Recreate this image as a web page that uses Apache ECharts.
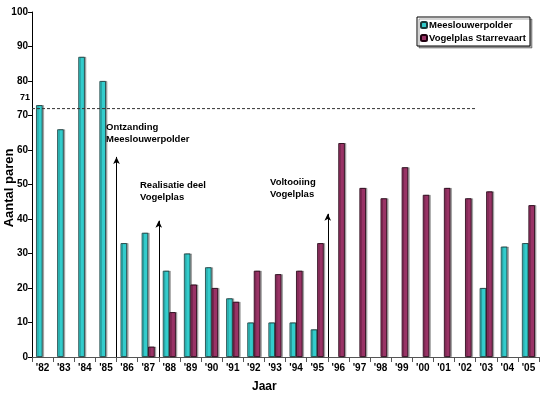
<!DOCTYPE html>
<html><head><meta charset="utf-8">
<script src="https://cdn.jsdelivr.net/npm/echarts@6/dist/echarts.min.js"></script>
<style>html,body{margin:0;padding:0;background:#fff}#c{width:550px;height:398px}</style>
</head><body><div id="c"></div>
<script>
const years = ["'82","'83","'84","'85","'86","'87","'88","'89","'90","'91","'92","'93","'94","'95","'96","'97","'98","'99","'00","'01","'02","'03","'04","'05"];
const meeslouwerpolder = [73,66,87,80,33,36,25,30,26,17,10,10,10,8,null,null,null,null,null,null,null,20,32,33];
const vogelplas = [null,null,null,null,null,3,13,21,20,16,25,24,25,33,62,49,46,55,47,49,46,48,null,44];
const yTicks = [0,10,20,30,40,50,60,70,80,90,100];
const refValue = 72;
const refLabel = '71';
// annotation arrows: [category boundary index, arrow top value]
const arrows = [[4,58],[6,39.5],[14,41.5]];

const font = 'Liberation Sans, Arial, sans-serif';
const chart = echarts.init(document.getElementById('c'));
chart.setOption({
  animation:false,
  grid:{left:32,right:11,top:12,bottom:41,containLabel:false,outerBoundsMode:'none'},
  legend:{
    orient:'vertical', left:417, top:17, padding:[3,4,3,3], itemGap:3,
    itemWidth:6, itemHeight:6, borderColor:'#000', borderWidth:1,
    shadowColor:'rgba(0,0,0,0.35)', shadowOffsetX:2, shadowOffsetY:2, backgroundColor:'#fff',
    textStyle:{fontFamily:font,fontWeight:'bold',fontSize:9.5,color:'#000',padding:[0,0,0,-3]},
    data:['Meeslouwerpolder','Vogelplas Starrevaart']
  },
  xAxis:[{
    type:'category', data:years, boundaryGap:true,
    axisLine:{lineStyle:{color:'#555',width:1}},
    axisTick:{show:true,length:5,lineStyle:{color:'#555'}},
    axisLabel:{fontFamily:font,fontWeight:'bold',fontSize:10,color:'#000',margin:6}
  },{
    type:'value', min:0, max:24, show:false
  }],
  yAxis:{
    type:'value', min:0, max:100, interval:10,
    splitLine:{show:false},
    axisLine:{show:true,lineStyle:{color:'#000'}},
    axisTick:{show:true,length:4,lineStyle:{color:'#000'}},
    axisLabel:{fontFamily:font,fontWeight:'bold',fontSize:10,color:'#000',margin:4,
      formatter:v=>yTicks.includes(v)?String(v):''}
  },
  series:[{
    name:'Meeslouwerpolder', type:'bar', data:meeslouwerpolder, barWidth:6.5, barGap:'0%',
    itemStyle:{color:'#33CCCC',borderColor:'#1a3a3a',borderWidth:0.8,
      shadowColor:'rgba(0,0,0,0.3)',shadowOffsetX:1.5}
  },{
    name:'Vogelplas Starrevaart', type:'bar', data:vogelplas, barWidth:6.5, barGap:'0%',
    itemStyle:{color:'#993366',borderColor:'#200010',borderWidth:0.8,
      shadowColor:'rgba(0,0,0,0.3)',shadowOffsetX:1.5}
  },{
    name:'ref', type:'line', xAxisIndex:1, data:[[0,refValue],[21,refValue]],
    symbol:'none', silent:true,
    lineStyle:{color:'#333',width:1,type:[3,2]},
    label:{show:false},
    markPoint:{symbol:'circle',symbolSize:0,
      data:[{coord:[0,refValue],label:{show:true,formatter:refLabel,position:[-12,-16],
        fontFamily:font,fontWeight:'bold',fontSize:9,color:'#000'}}]},
    markLine:{
      silent:true, symbol:['none','arrow'], symbolSize:[5,7],
      lineStyle:{color:'#000',width:1,type:'solid'}, label:{show:false},
      data: arrows.map(a=>[{coord:[a[0],0]},{coord:[a[0],a[1]]}])
    }
  }],
  graphic:[
    {type:'text',left:106,top:121,style:{text:'Ontzanding\nMeeslouwerpolder',fontFamily:font,fontWeight:'bold',fontSize:9.5,lineHeight:12.5,fill:'#000'}},
    {type:'text',left:140,top:179,style:{text:'Realisatie deel\nVogelplas',fontFamily:font,fontWeight:'bold',fontSize:9.5,lineHeight:12.5,fill:'#000'}},
    {type:'text',left:270,top:176,style:{text:'Voltooiing\nVogelplas',fontFamily:font,fontWeight:'bold',fontSize:9.5,lineHeight:12.5,fill:'#000'}},
    {type:'text',left:252,top:381,style:{text:'Jaar',fontFamily:font,fontWeight:'bold',fontSize:12,fill:'#000'}},
    {type:'text',x:15.5,y:188,rotation:Math.PI/2,style:{text:'Aantal paren',fontFamily:font,fontWeight:'bold',fontSize:13,fill:'#000',align:'center',verticalAlign:'bottom'}}
  ]
});
</script></body></html>
